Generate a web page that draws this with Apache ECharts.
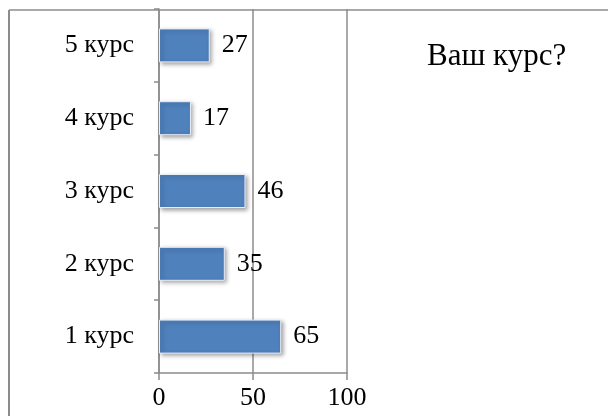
<!DOCTYPE html>
<html><head><meta charset="utf-8">
<script src="https://cdn.jsdelivr.net/npm/echarts@6/dist/echarts.min.js"></script>
<style>html,body{margin:0;padding:0;background:#fff}#c{width:608px;height:416px}</style>
</head><body><div id="c"></div>
<script>
const categories = ['1 курс','2 курс','3 курс','4 курс','5 курс'];
const values = [65, 35, 46, 17, 27];
const xTicks = [0, 50, 100];
const titleText = 'Ваш курс?';

const chart = echarts.init(document.getElementById('c'), null, {renderer:'canvas'});
const font = 'Liberation Serif, Times New Roman, serif';
chart.setOption({
  animation:false,
  backgroundColor:'#fff',
  title:{text:titleText, left:422, top:36, textStyle:{fontFamily:font, fontSize:31, fontWeight:'normal', color:'#000'}},
  graphic:[
    {type:'line', shape:{x1:9,y1:10,x2:620,y2:10}, style:{stroke:'#8c8c8c', lineWidth:1.5}, silent:true},
    {type:'line', shape:{x1:9,y1:10,x2:9,y2:430}, style:{stroke:'#8c8c8c', lineWidth:2}, silent:true}
  ],
  grid:{left:159, top:9, width:188, height:364, containLabel:false},
  xAxis:{type:'value', min:xTicks[0], max:xTicks[xTicks.length-1], interval:50,
    axisLine:{show:true, lineStyle:{color:'#8c8c8c', width:1.5}},
    axisTick:{show:true, length:7, lineStyle:{color:'#8c8c8c', width:1.5}},
    axisLabel:{fontFamily:font, fontSize:26, color:'#000', margin:12},
    splitLine:{show:true, lineStyle:{color:'#8c8c8c', width:1.5}}},
  yAxis:{type:'category', data:categories,
    axisLine:{show:true, lineStyle:{color:'#8c8c8c', width:1.5}},
    axisTick:{show:true, length:5, lineStyle:{color:'#8c8c8c', width:1.5}},
    axisLabel:{fontFamily:font, fontSize:26, color:'#000', margin:25}},
  series:[{type:'bar', data:values, barWidth:34,
    itemStyle:{color:'#4f81bd', borderColor:'#e8eef7', borderWidth:1,
      shadowColor:'rgba(0,0,0,0.35)', shadowBlur:4, shadowOffsetX:2, shadowOffsetY:2},
    label:{show:true, position:'right', distance:12, fontFamily:font, fontSize:26, color:'#000'}}]
});
</script></body></html>
